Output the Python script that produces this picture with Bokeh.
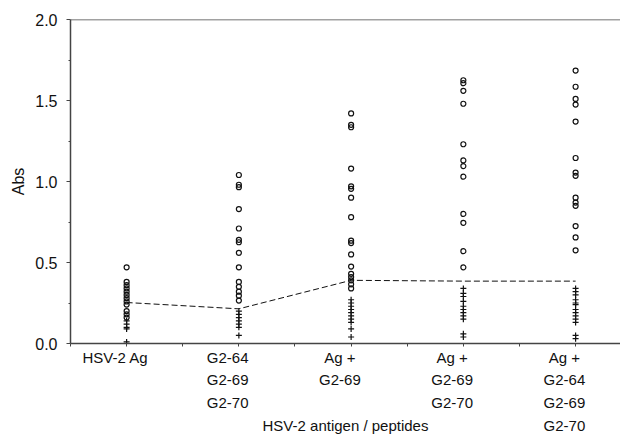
from bokeh.plotting import figure
from bokeh.models import FixedTicker, LinearAxis, Span, Range1d, NumeralTickFormatter
from bokeh.embed import file_html
from bokeh.resources import INLINE

# ---- data ----
categories = ["HSV-2 Ag", "G2-64\nG2-69\nG2-70", "Ag +\nG2-69",
              "Ag +\nG2-69\nG2-70", "Ag +\nG2-64\nG2-69\nG2-70"]
cat_pos = [1, 2, 3, 4, 5]

pos_hsv2 = [0.47, 0.38, 0.36, 0.34, 0.32, 0.30, 0.28, 0.26, 0.24, 0.20, 0.18, 0.16]
neg_hsv2 = [0.14, 0.12, 0.10, 0.09, 0.01]

pos_pep = [1.04, 0.98, 0.965, 0.83, 0.71, 0.64, 0.625, 0.56, 0.47, 0.38, 0.35, 0.32, 0.295, 0.265]
neg_pep = [0.20, 0.18, 0.16, 0.14, 0.12, 0.10, 0.05]

pos_ag69 = [1.42, 1.35, 1.335, 1.08, 0.97, 0.955, 0.90, 0.78, 0.635, 0.62, 0.55, 0.475, 0.43, 0.41, 0.39, 0.365, 0.34]
neg_ag69 = [0.27, 0.25, 0.23, 0.21, 0.19, 0.17, 0.15, 0.13, 0.09, 0.04]

pos_ag6970 = [1.625, 1.607, 1.56, 1.48, 1.23, 1.13, 1.095, 1.03, 0.80, 0.745, 0.57, 0.47]
neg_ag6970 = [0.34, 0.31, 0.29, 0.26, 0.23, 0.21, 0.19, 0.17, 0.15, 0.06, 0.04]

pos_ag646970 = [1.685, 1.585, 1.51, 1.475, 1.37, 1.145, 1.055, 1.035, 0.90, 0.87, 0.85, 0.725, 0.655, 0.575]
neg_ag646970 = [0.34, 0.32, 0.30, 0.27, 0.25, 0.24, 0.21, 0.19, 0.17, 0.15, 0.13, 0.05, 0.03]

cutoff = [0.253, 0.214, 0.39, 0.385, 0.385]

y_ticks = [0, 0.5, 1.0, 1.5, 2.0]
y_minor = [0.25, 0.75, 1.25, 1.75]

positives = [pos_hsv2, pos_pep, pos_ag69, pos_ag6970, pos_ag646970]
negatives = [neg_hsv2, neg_pep, neg_ag69, neg_ag6970, neg_ag646970]

# ---- style ----
FONT = "Liberation Sans"
INK = "#111111"
AXIS = "#444444"
label_shift = -0.1

p = figure(width=620, height=437, output_backend="svg", toolbar_location=None,
           x_range=Range1d(0.5, 5.4), y_range=Range1d(0, 2.0),
           x_axis_type=None,
           min_border_left=70, min_border_right=0, min_border_top=19, min_border_bottom=0)
p.outline_line_color = None
p.grid.visible = False
p.background_fill_color = "white"
p.border_fill_color = "white"

# y axis
ya = p.yaxis[0]
ya.ticker = FixedTicker(ticks=y_ticks, minor_ticks=y_minor)
ya.formatter = NumeralTickFormatter(format="0.0")
ya.axis_label = "Abs"
ya.axis_label_text_font = FONT
ya.axis_label_text_font_style = "normal"
ya.axis_label_text_font_size = "16px"
ya.axis_label_text_color = INK
ya.axis_label_standoff = 5
ya.major_label_text_font = FONT
ya.major_label_text_font_size = "16px"
ya.major_label_text_color = INK
ya.major_label_standoff = 9
ya.axis_line_color = AXIS
ya.axis_line_width = 1.5
ya.major_tick_line_color = AXIS
ya.major_tick_in = 0
ya.major_tick_out = 4
ya.minor_tick_line_color = AXIS
ya.minor_tick_in = 0
ya.minor_tick_out = 2

# x axis line with tick marks only (no labels)
xa = LinearAxis(ticker=FixedTicker(ticks=[], minor_ticks=cat_pos + [c - 0.5 for c in cat_pos]))
xa.axis_line_color = AXIS
xa.axis_line_width = 1.5
xa.minor_tick_line_color = AXIS
xa.minor_tick_in = 0
xa.minor_tick_out = 3
p.add_layout(xa, "below")

# x category labels, slightly left of their columns as in the reference
lab_ticks = [c + label_shift for c in cat_pos]
xl = LinearAxis(ticker=FixedTicker(ticks=lab_ticks, minor_ticks=[]),
                major_label_overrides={t: s for t, s in zip(lab_ticks, categories)})
xl.axis_line_color = None
xl.major_tick_line_color = None
xl.minor_tick_line_color = None
xl.major_tick_out = 0
xl.major_tick_in = 0
xl.major_label_standoff = 2
xl.major_label_text_font = FONT
xl.major_label_text_font_size = "15px"
xl.major_label_text_color = INK
xl.major_label_text_line_height = 1.35
xl.axis_label = "HSV-2 antigen / peptides"
xl.axis_label_text_font = FONT
xl.axis_label_text_font_style = "normal"
xl.axis_label_text_font_size = "15px"
xl.axis_label_text_color = INK
xl.axis_label_standoff = -20
p.add_layout(xl, "below")

# top border line
p.add_layout(Span(location=2.0, dimension="width", line_color=AXIS, line_width=1.5))

# data marks
for x, pos, neg in zip(cat_pos, positives, negatives):
    p.scatter([x] * len(pos), pos, marker="circle", size=5, fill_color=None,
              line_color=INK, line_width=1.2)
    p.scatter([x] * len(neg), neg, marker="cross", size=6,
              line_color=INK, line_width=1.2)

p.line(cat_pos, cutoff, line_color=INK, line_width=1, line_dash="6 3")

open("out.html", "w").write(file_html(p, INLINE))
